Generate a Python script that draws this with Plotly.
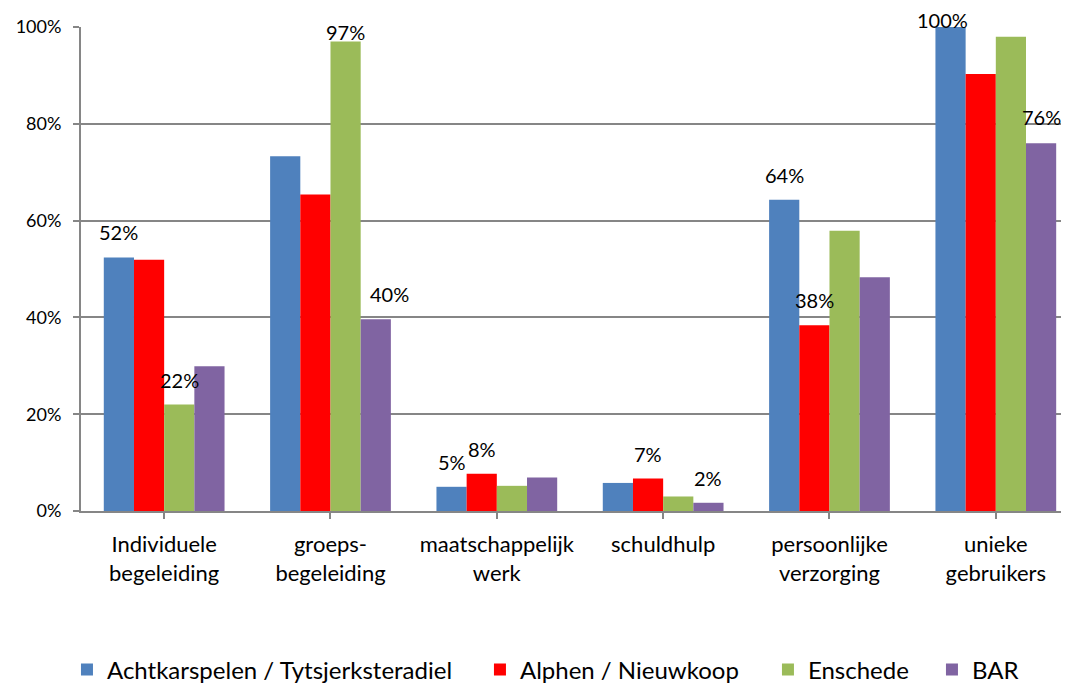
import plotly.graph_objects as go

categories = ["Individuele<br>begeleiding", "groeps-<br>begeleiding", "maatschappelijk<br>werk",
              "schuldhulp", "persoonlijke<br>verzorging", "unieke<br>gebruikers"]
series_names = ["Achtkarspelen / Tytsjerksteradiel", "Alphen / Nieuwkoop", "Enschede", "BAR"]
achtkarspelen = [52.4, 73.3, 5.0, 5.8, 64.3, 100.0]
alphen = [51.9, 65.4, 7.7, 6.7, 38.4, 90.3]
enschede = [22.0, 97.0, 5.2, 3.0, 57.9, 98.0]
bar_ = [29.9, 39.6, 6.9, 1.7, 48.3, 76.0]
colors = ["#4F81BD", "#FF0000", "#9BBB59", "#8064A2"]
y_ticks = [0, 20, 40, 60, 80, 100]

# labelled bars: (category index, series index)
labelled = [(0, 0), (0, 2), (1, 2), (1, 3), (2, 0), (2, 1), (3, 1), (3, 3),
            (4, 0), (4, 1), (5, 0), (5, 3)]
# label placement tweaks (px): (xshift, yshift)
label_shift = {(1, 2): (0, 10), (5, 0): (-8, 7), (1, 3): (14, 25), (5, 3): (0, 26)}

values = [achtkarspelen, alphen, enschede, bar_]
bargap = 0.274

# one legend per series so each entry sits where it does in the original
legend_ids = ["legend", "legend2", "legend3", "legend4"]
legend_x = [-0.0142, 0.4038, 0.6953, 0.8613]

fig = go.Figure()
for name, vals, col, lid in zip(series_names, values, colors, legend_ids):
    fig.add_trace(go.Bar(x=list(range(len(categories))), y=vals, name=name, legend=lid,
                         marker=dict(color=col, line=dict(width=0))))

bw = (1 - bargap) / len(values)
for (ci, si) in labelled:
    v = values[si][ci]
    xs, ys = label_shift.get((ci, si), (0, 25))
    fig.add_annotation(x=ci + (si - 1.5) * bw, y=v, xref="x", yref="y",
                       text=f"{round(v)}%", showarrow=False, xshift=xs, yshift=ys,
                       font=dict(family="Lato", size=20, color="#000000"))

legend_style = dict(orientation="h", xanchor="left", y=-0.3285, yanchor="middle",
                    font=dict(family="Lato", size=24, color="#000000"),
                    bgcolor="rgba(0,0,0,0)")

# the page body adds an 8px offset, so the figure is sized to fit the window
fig.update_layout(
    width=1061, height=678,
    margin=dict(l=73, r=0, t=19, b=175, autoexpand=False),
    paper_bgcolor="white", plot_bgcolor="white",
    barmode="group", bargap=bargap, bargroupgap=0,
    font=dict(family="Lato", size=18, color="#000000"),
    showlegend=True,
)
for lid, lx in zip(legend_ids, legend_x):
    fig.update_layout({lid: dict(x=lx, **legend_style)})

fig.update_xaxes(
    tickmode="array", tickvals=list(range(len(categories))), ticktext=categories,
    range=[-0.5, 5.44], showgrid=False, showline=True, linecolor="#868686", linewidth=2,
    ticks="outside", ticklen=6, tickcolor="#868686", tickwidth=2,
    ticklabelstandoff=7, zeroline=False, automargin=False,
    tickfont=dict(family="Lato", size=22, color="#000000"),
)
# boundaries tick marks
fig.update_xaxes(tickson="boundaries")
fig.update_yaxes(
    range=[0, 100], tickmode="array", tickvals=y_ticks, ticktext=[f"{t}%" for t in y_ticks],
    showgrid=True, gridcolor="#868686", gridwidth=1.5, showline=True, linecolor="#868686",
    linewidth=2, ticks="outside", ticklen=6, tickcolor="#868686", tickwidth=1.5,
    ticklabelstandoff=8, zeroline=False, automargin=False,
    tickfont=dict(family="Lato", size=18, color="#000000"),
)

fig.write_html("out.html")
